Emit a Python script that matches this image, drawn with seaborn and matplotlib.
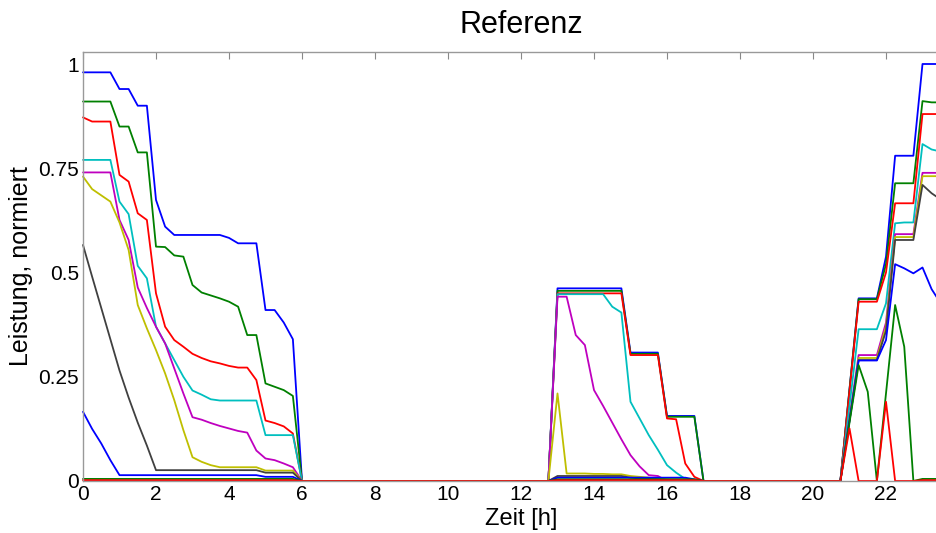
import numpy as np
import pandas as pd
import seaborn as sns
import matplotlib
matplotlib.use("Agg")
from matplotlib import pyplot as plt

# time grid, 15 min steps
t_full = np.arange(0, 24.01, 0.25)

# three active windows
t_morning = np.arange(0, 6.01, 0.25)          # 0 .. 6
t_afternoon = np.arange(12.75, 17.01, 0.25)   # 12.75 .. 17
t_evening = np.arange(20.75, 24.01, 0.25)     # 20.75 .. 24

series_names = ["s1", "s2", "s3", "s4", "s5", "s6", "s7", "s8", "s9", "s10"]
colors = ["#0000ff", "#008000", "#ff0000", "#00bfbf", "#bf00bf",
          "#bfbf00", "#404040", "#0000ff", "#008000", "#ff0000"]

morning = {
    "s1": [0.98, 0.98, 0.98, 0.98, 0.94, 0.94, 0.90, 0.90, 0.674, 0.61, 0.59, 0.59, 0.59,
           0.59, 0.59, 0.59, 0.583, 0.57, 0.57, 0.57, 0.41, 0.41, 0.38, 0.34, 0.0],
    "s2": [0.91, 0.91, 0.91, 0.91, 0.85, 0.85, 0.788, 0.788, 0.562, 0.561, 0.541, 0.538, 0.47,
           0.452, 0.445, 0.438, 0.43, 0.418, 0.35, 0.35, 0.234, 0.226, 0.218, 0.204, 0.0],
    "s3": [0.872, 0.862, 0.862, 0.862, 0.734, 0.718, 0.642, 0.626, 0.45, 0.37, 0.338, 0.322, 0.305,
           0.295, 0.287, 0.282, 0.276, 0.272, 0.272, 0.242, 0.145, 0.139, 0.131, 0.114, 0.0],
    "s4": [0.77, 0.77, 0.77, 0.77, 0.67, 0.64, 0.516, 0.486, 0.37, 0.33, 0.29, 0.25, 0.217,
           0.207, 0.196, 0.193, 0.193, 0.193, 0.193, 0.193, 0.11, 0.11, 0.11, 0.11, 0.0],
    "s5": [0.74, 0.74, 0.74, 0.74, 0.626, 0.578, 0.464, 0.415, 0.37, 0.33, 0.27, 0.21, 0.153,
           0.147, 0.139, 0.132, 0.126, 0.12, 0.116, 0.073, 0.054, 0.05, 0.042, 0.033, 0.0],
    "s6": [0.73, 0.70, 0.685, 0.67, 0.62, 0.554, 0.422, 0.366, 0.314, 0.258, 0.194, 0.122, 0.057,
           0.046, 0.038, 0.033, 0.033, 0.033, 0.033, 0.033, 0.025, 0.025, 0.025, 0.025, 0.0],
    "s7": [0.566, 0.49, 0.415, 0.34, 0.265, 0.2, 0.14, 0.085, 0.026, 0.026, 0.026, 0.026, 0.026,
           0.026, 0.026, 0.026, 0.026, 0.026, 0.026, 0.026, 0.02, 0.02, 0.02, 0.02, 0.0],
    "s8": [0.166, 0.125, 0.09, 0.05, 0.014, 0.014, 0.014, 0.014, 0.014, 0.014, 0.014, 0.014, 0.014,
           0.014, 0.014, 0.014, 0.014, 0.014, 0.014, 0.014, 0.01, 0.01, 0.01, 0.01, 0.0],
    "s9": [0.005] * 24 + [0.0],
    "s10": [0.002] * 24 + [0.0],
}

afternoon = {
    "s1": [0, 0.462, 0.462, 0.462, 0.462, 0.462, 0.462, 0.462, 0.462,
           0.308, 0.308, 0.308, 0.308, 0.156, 0.156, 0.156, 0.156, 0],
    "s2": [0, 0.456, 0.456, 0.456, 0.456, 0.456, 0.456, 0.456, 0.456,
           0.305, 0.305, 0.305, 0.305, 0.154, 0.154, 0.154, 0.154, 0],
    "s3": [0, 0.45, 0.45, 0.45, 0.45, 0.45, 0.45, 0.45, 0.45,
           0.302, 0.302, 0.302, 0.302, 0.15, 0.148, 0.042, 0.01, 0],
    "s4": [0, 0.448, 0.448, 0.448, 0.448, 0.448, 0.448, 0.418, 0.404,
           0.19, 0.15, 0.11, 0.075, 0.038, 0.02, 0.005, 0, 0],
    "s5": [0, 0.442, 0.442, 0.35, 0.326, 0.218, 0.18, 0.14, 0.10,
           0.062, 0.035, 0.014, 0.012, 0, 0, 0, 0, 0],
    "s6": [0, 0.21, 0.018, 0.018, 0.018, 0.017, 0.017, 0.016, 0.016,
           0.012, 0.01, 0.008, 0.006, 0.004, 0.004, 0.004, 0, 0],
    "s7": [0, 0.012, 0.012, 0.012, 0.012, 0.012, 0.012, 0.012, 0.012,
           0.008, 0.006, 0.005, 0.004, 0.003, 0.002, 0.002, 0.001, 0],
    "s8": [0] + [0.008] * 15 + [0.004, 0],
    "s9": [0] + [0.004] * 16 + [0],
    "s10": [0] + [0.002] * 16 + [0],
}

evening = {
    "s1": [0, 0.22, 0.438, 0.438, 0.438, 0.538, 0.78, 0.78, 0.78, 1.0, 1.0, 1.0, 1.0, 1.0],
    "s2": [0, 0.22, 0.436, 0.436, 0.436, 0.52, 0.714, 0.714, 0.714, 0.911, 0.908, 0.908, 0.908, 0.908],
    "s3": [0, 0.215, 0.43, 0.43, 0.43, 0.5, 0.666, 0.666, 0.666, 0.88, 0.88, 0.88, 0.88, 0.88],
    "s4": [0, 0.18, 0.364, 0.364, 0.364, 0.426, 0.618, 0.62, 0.62, 0.808, 0.795, 0.79, 0.79, 0.79],
    "s5": [0, 0.15, 0.302, 0.302, 0.302, 0.38, 0.592, 0.592, 0.592, 0.739, 0.739, 0.739, 0.739, 0.739],
    "s6": [0, 0.147, 0.295, 0.295, 0.295, 0.37, 0.585, 0.585, 0.585, 0.731, 0.731, 0.731, 0.731, 0.731],
    "s7": [0, 0.145, 0.29, 0.29, 0.29, 0.36, 0.578, 0.578, 0.578, 0.71, 0.69, 0.675, 0.65, 0.63],
    "s8": [0, 0.145, 0.289, 0.289, 0.289, 0.338, 0.52, 0.51, 0.498, 0.512, 0.46, 0.426, 0.4, 0.38],
    "s9": [0, 0.14, 0.278, 0.214, 0.0, 0.21, 0.422, 0.322, 0.0, 0.005, 0.005, 0.005, 0.005, 0.005],
    "s10": [0, 0.126, 0, 0, 0, 0.19, 0, 0, 0, 0.002, 0.002, 0.002, 0.002, 0.002],
}

xtick_values = [0, 2, 4, 6, 8, 10, 12, 14, 16, 18, 20, 22]
ytick_values = [0, 0.25, 0.5, 0.75, 1]
ytick_labels = ["0", "0.25", "0.5", "0.75", "1"]


def build_frame():
    rows = []
    for name in series_names:
        v = np.zeros(len(t_full))
        for tw, vals in ((t_morning, morning[name]), (t_afternoon, afternoon[name]),
                         (t_evening, evening[name])):
            idx = np.round(tw / 0.25).astype(int)
            v[idx] = vals
        rows.append(pd.DataFrame({"t": t_full, "v": v, "serie": name}))
    return pd.concat(rows, ignore_index=True)


df = build_frame()

sns.set_style("white")
plt.rcParams["font.family"] = ["Liberation Sans", "DejaVu Sans"]
plt.rcParams["text.color"] = "black"
plt.rcParams["axes.labelcolor"] = "black"

fig = plt.figure(figsize=(9.37, 5.33), dpi=100)
# axes run past the right edge: the picture is cut at about 23.5 h
ax = fig.add_axes([83 / 937, 1 - 481 / 533, 876 / 937, 429 / 533])

sns.lineplot(data=df, x="t", y="v", hue="serie", hue_order=series_names,
             palette=colors, legend=False, linewidth=1.3, estimator=None,
             ax=ax, clip_on=False)

ax.set_xlim(0, 24)
ax.set_ylim(0, 429 / 417)
ax.set_xticks(xtick_values)
ax.set_yticks(ytick_values)
ax.set_yticklabels(ytick_labels)
ax.tick_params(direction="in", length=5, top=True, right=True,
               color="#888888", labelsize=15, labelcolor="black", pad=3)
for sp in ax.spines.values():
    sp.set_color("#999999")
    sp.set_linewidth(1.0)

ax.set_xlabel("Zeit [h]", fontsize=17, labelpad=3)
ax.set_ylabel("Leistung, normiert", fontsize=18, labelpad=4)
ax.set_title("Referenz", fontsize=22, pad=14)

fig.savefig("out.png", dpi=100)
